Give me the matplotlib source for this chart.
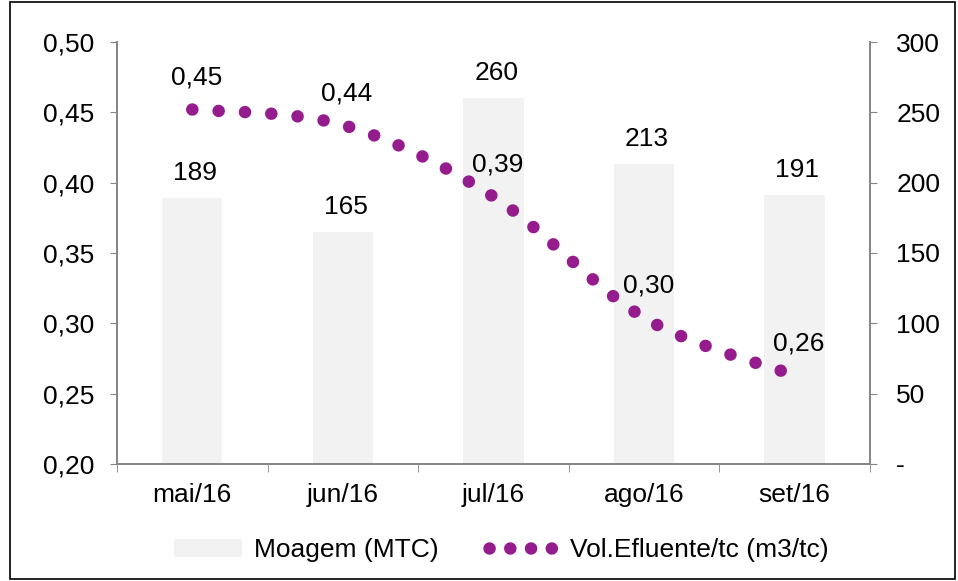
import matplotlib.pyplot as plt
from matplotlib.path import Path
from matplotlib.patches import PathPatch, Patch, Rectangle
from matplotlib.lines import Line2D
import numpy as np

plt.rcParams['font.family'] = ['Liberation Sans', 'DejaVu Sans']

meses = ['mai/16', 'jun/16', 'jul/16', 'ago/16', 'set/16']
moagem = [189, 165, 260, 213, 191]
efluente = [0.452, 0.441, 0.39, 0.304, 0.263]
rotulos_efl = ['0,45', '0,44', '0,39', '0,30', '0,26']

roxo = '#951c8d'
cinza = '#868686'
fs = 19

fig = plt.figure(figsize=(9.58, 5.81), dpi=100)
ax = fig.add_axes([0.1221, 0.2014, 0.7859, 0.7263])
ax2 = ax.twinx()

x = np.arange(len(meses))

# barras no eixo direito
ax2.bar(x, moagem, width=0.4, color='#f2f2f2', zorder=1)
for xi, v in zip(x, moagem):
    ax2.annotate(str(v), (xi, v), xytext=(2, 18), textcoords='offset points',
                 ha='center', va='center', fontsize=fs)

# linha suavizada (estilo excel) no eixo esquerdo
pts = list(zip(x.astype(float), efluente))
verts = [pts[0]]
codes = [Path.MOVETO]
for i in range(len(pts) - 1):
    p0 = pts[i - 1] if i > 0 else pts[i]
    p1 = pts[i]
    p2 = pts[i + 1]
    p3 = pts[i + 2] if i + 2 < len(pts) else pts[i + 1]
    c1 = (p1[0] + (p2[0] - p0[0]) / 6, p1[1] + (p2[1] - p0[1]) / 6)
    c2 = (p2[0] - (p3[0] - p1[0]) / 6, p2[1] - (p3[1] - p1[1]) / 6)
    verts += [c1, c2, p2]
    codes += [Path.CURVE4] * 3
linha = PathPatch(Path(verts, codes), fill=False, edgecolor=roxo,
                  linewidth=9, linestyle=(0, (0.01, 2.1)), zorder=3)
linha.set_capstyle('round')
ax.add_patch(linha)
for xi, v, r in zip(x, efluente, rotulos_efl):
    ax.annotate(r, (xi, v), xytext=(3, 23),
                textcoords='offset points', ha='center', va='center', fontsize=fs)

ax.set_zorder(ax2.get_zorder() + 1)
ax.patch.set_visible(False)

ax.set_xlim(-0.5, 4.5)
ax.set_ylim(0.20, 0.50)
ax2.set_ylim(0, 300)
yt = np.arange(0.20, 0.501, 0.05)
ax.set_yticks(yt)
ax.set_yticklabels([f'{t:.2f}'.replace('.', ',') for t in yt])
ax2.set_yticks(range(0, 301, 50))
ax2.set_yticklabels(['-'] + [str(t) for t in range(50, 301, 50)])

ax.set_xticks(x)
ax.set_xticklabels(meses)
ax.set_xticks(np.arange(-0.5, 5, 1), minor=True)
ax.tick_params(axis='x', which='major', length=0, pad=14, labelsize=fs)
ax.tick_params(axis='x', which='minor', length=6, color=cinza, direction='out')
ax.tick_params(axis='y', length=5, color=cinza, labelsize=fs, pad=11)
ax2.tick_params(axis='y', length=5, color=cinza, labelsize=fs, pad=14)

for a in (ax, ax2):
    a.spines['top'].set_visible(False)
    for s in ('left', 'right', 'bottom'):
        a.spines[s].set_color(cinza)
        a.spines[s].set_linewidth(1.3)

handles = [Patch(facecolor='#f2f2f2', edgecolor='none'),
           Line2D([0], [0], color=roxo, linewidth=9, linestyle=(0, (0.01, 1.65)),
                  dash_capstyle='round')]
fig.legend(handles, ['Moagem (MTC)', 'Vol.Efluente/tc (m3/tc)'], loc='center',
           bbox_to_anchor=(0.523, 0.053), ncol=2, frameon=False, fontsize=fs,
           handlelength=2.6, handleheight=0.65, columnspacing=1.9, handletextpad=0.45)

fig.patches.append(Rectangle((0.0105, 0.004), 0.986, 0.992, transform=fig.transFigure,
                             fill=False, edgecolor='black', linewidth=1.2))

fig.savefig('out.png', dpi=100)
